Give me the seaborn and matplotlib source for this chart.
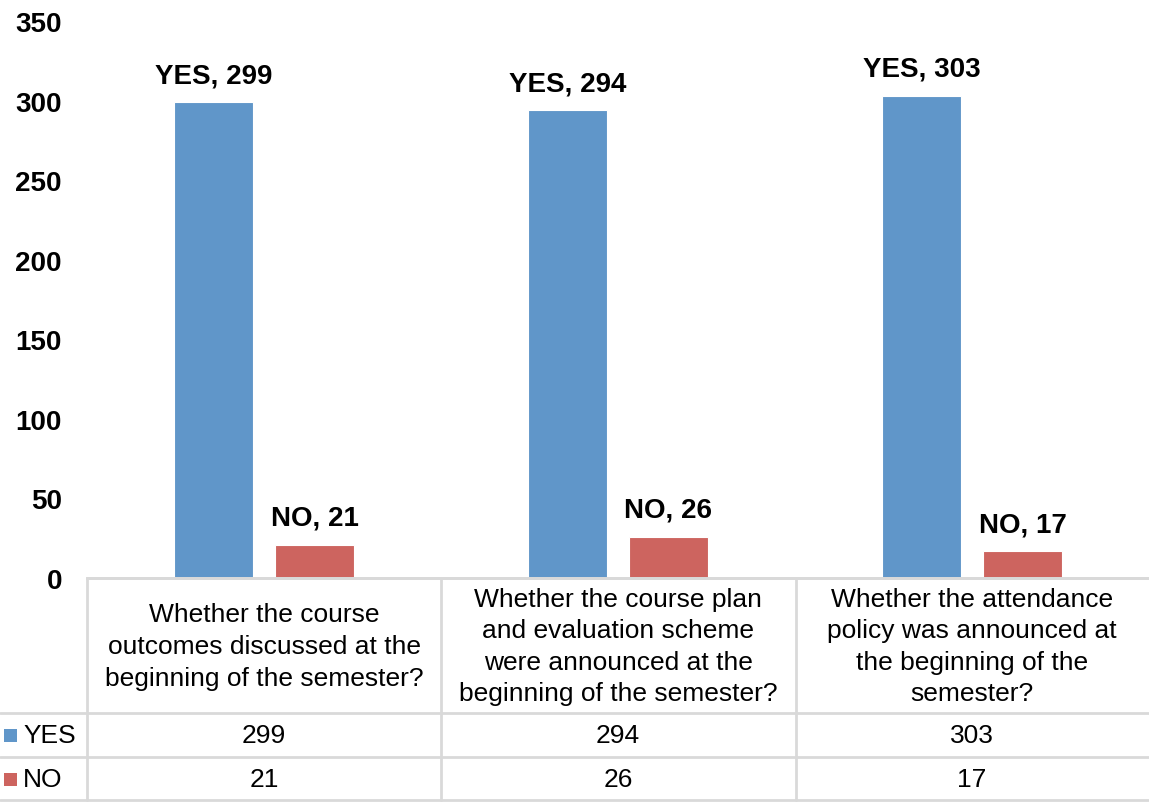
import matplotlib
matplotlib.use("Agg")
import matplotlib.pyplot as plt
import matplotlib.transforms as mtransforms
from matplotlib.patches import Rectangle
from matplotlib.lines import Line2D
import seaborn as sns
import pandas as pd

# Survey results
questions = [
    "Whether the course\noutcomes discussed at the\nbeginning of the semester?",
    "Whether the course plan\nand evaluation scheme\nwere announced at the\nbeginning of the semester?",
    "Whether the attendance\npolicy was announced at\nthe beginning of the\nsemester?",
]
answers = ["YES", "NO"]
yes_counts = [299, 294, 303]
no_counts = [21, 26, 17]
y_ticks = [0, 50, 100, 150, 200, 250, 300, 350]

colors = {"YES": "#6096C9", "NO": "#CD645F"}
grid_color = "#D9D9D9"

sns.set_theme(style="white")
plt.rcParams["font.family"] = ["Liberation Sans", "DejaVu Sans"]
plt.rcParams["text.color"] = "black"
plt.rcParams["ytick.color"] = "black"
plt.rcParams["ytick.labelcolor"] = "black"

df = pd.DataFrame({
    "question": questions * 2,
    "answer": ["YES"] * len(questions) + ["NO"] * len(questions),
    "count": yes_counts + no_counts,
})

W, H = 1149, 803
fig = plt.figure(figsize=(W / 100, H / 100), dpi=100)

def fx(px):
    return px / W

def fy(py):
    return 1 - py / H

ax = fig.add_axes([fx(87), fy(579), fx(1149) - fx(87), fy(22) - fy(579)])

sns.barplot(data=df, x="question", y="count", hue="answer", order=questions,
            hue_order=answers, palette=colors, saturation=1, width=0.57,
            gap=0.22, edgecolor="white", linewidth=0.8, legend=False, ax=ax)

ax.set_xlim(-0.5, len(questions) - 0.5)
ax.set_ylim(0, 350)
ax.set_yticks(y_ticks)
ax.set_yticklabels([str(t) for t in y_ticks], fontsize=20, fontweight="bold",
                   color="black")
ax.tick_params(axis="y", length=0, pad=18)
ax.set_xticks([])
ax.set_xlabel("")
ax.set_ylabel("")
for s in ["top", "right", "left"]:
    ax.spines[s].set_visible(False)
ax.spines["bottom"].set_color(grid_color)
ax.spines["bottom"].set_linewidth(2)

# Data labels "YES, 299" above each bar
for container, ans in zip(ax.containers, answers):
    labels = [f"{ans}, {int(b.get_height())}" for b in container]
    ax.bar_label(container, labels=labels, padding=10, fontsize=20,
                 fontweight="bold", color="black")

# Data table below the plot area
trans = mtransforms.blended_transform_factory(ax.transData, fig.transFigure)
line_kw = dict(color=grid_color, linewidth=2, transform=fig.transFigure)

row_lines = [579, 714, 758, 801]
for i, yy in enumerate(row_lines):
    x0 = 87 if i == 0 else 0
    fig.add_artist(Line2D([fx(x0), 1], [fy(yy), fy(yy)], **line_kw))
for xx in [87, 441, 796]:
    fig.add_artist(Line2D([fx(xx), fx(xx)], [fy(579), fy(801)], **line_kw))

for i, q in enumerate(questions):
    ax.text(i, fy(647), q, transform=trans, ha="center", va="center",
            fontsize=19, linespacing=1.4, clip_on=False)
    ax.text(i, fy(736), str(yes_counts[i]), transform=trans, ha="center",
            va="center", fontsize=19, clip_on=False)
    ax.text(i, fy(780), str(no_counts[i]), transform=trans, ha="center",
            va="center", fontsize=19, clip_on=False)

for ans, yc in zip(answers, [736, 780]):
    fig.add_artist(Rectangle((fx(4), fy(yc + 6.5)), fx(13), 13 / H,
                             facecolor=colors[ans], edgecolor="none",
                             transform=fig.transFigure))
    fig.text(fx(23), fy(yc), ans, ha="left", va="center", fontsize=19)

fig.savefig("out.png", dpi=100)
